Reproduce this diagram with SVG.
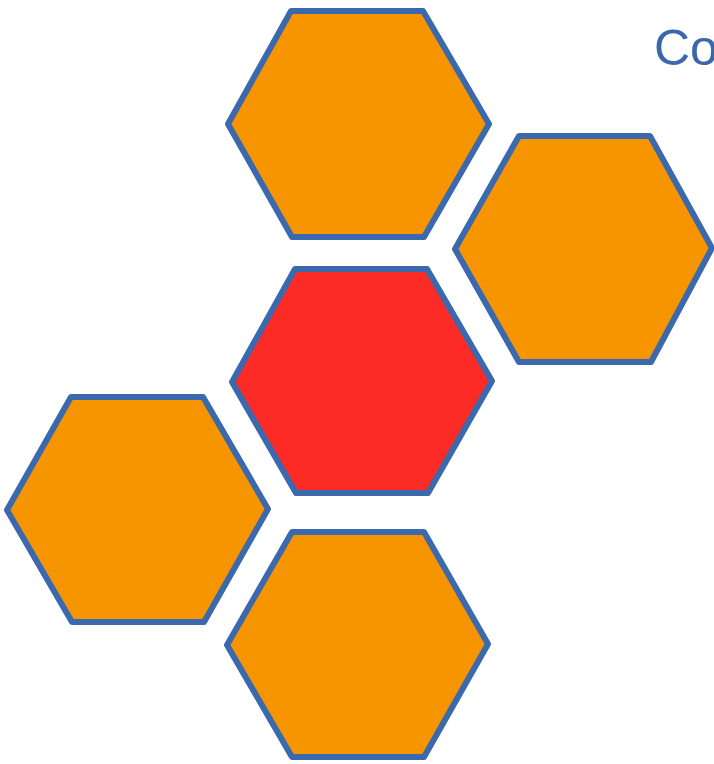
<svg xmlns="http://www.w3.org/2000/svg" width="714" height="764" viewBox="0 0 714 764">
<style>
.hex{stroke:#3b69ad;stroke-width:6;stroke-linejoin:round}
.o{fill:#f79500}
.r{fill:#fc2b25}
.t{font-family:"Liberation Sans",Arial,sans-serif;font-size:50px;fill:#3a67ae}
</style>
<rect width="714" height="764" fill="#ffffff"/>
<g id="hex-top"><polygon class="hex o" points="291,11 423,11 489,124 424,237 292,237 228,124"/></g>
<g id="hex-right"><polygon class="hex o" points="519,136 650,136 712,248 651,362 519,362 455,249"/></g>
<g id="hex-center"><polygon class="hex r" points="295,269 427,269 492,381 428,493 296,493 232,382"/></g>
<g id="hex-left"><polygon class="hex o" points="71,397 203,397 268,509 204,622 72,622 7,510"/></g>
<g id="hex-bottom"><polygon class="hex o" points="292,532 424,532 488,644 424,757 292,757 227,645"/></g>
<g id="connectors"></g>
<g id="title"><text class="t" x="654" y="65">Co</text></g>
</svg>
